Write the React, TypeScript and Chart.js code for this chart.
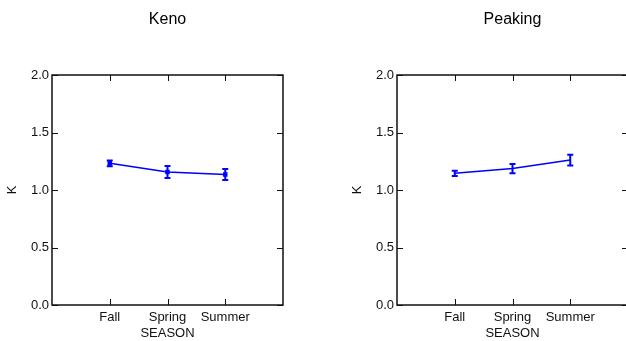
import React, { useEffect, useRef } from "react";
import { Chart, registerables } from "chart.js";

Chart.register(...registerables);

const seasons = ["Fall", "Spring", "Summer"];
const seasonPos = [1, 2, 3];
const kenoMean = [1.232, 1.157, 1.135];
const kenoErr = [0.025, 0.052, 0.048];
const peakingMean = [1.145, 1.186, 1.26];
const peakingErr = [0.023, 0.04, 0.046];
const yTicks = [0, 0.5, 1.0, 1.5, 2.0];

const FONT = "'Liberation Sans', Arial, Helvetica, sans-serif";
const BLUE = "#0000ff";

function makeConfig(title: string, mean: number[], err: number[], markers: boolean, padLeft: number, padRight: number) {
  const framePlugin = {
    id: "frame" + title,
    afterDatasetsDraw(chart: any) {
      const { ctx, scales } = chart;
      const xs = scales.x;
      const ys = scales.y;
      ctx.save();
      ctx.strokeStyle = BLUE;
      ctx.lineWidth = 2;
      mean.forEach((m, i) => {
        const px = xs.getPixelForValue(seasonPos[i]);
        const top = ys.getPixelForValue(m + err[i]);
        const bot = ys.getPixelForValue(m - err[i]);
        ctx.beginPath();
        ctx.moveTo(px, top);
        ctx.lineTo(px, bot);
        ctx.moveTo(px - 3, top);
        ctx.lineTo(px + 3, top);
        ctx.moveTo(px - 3, bot);
        ctx.lineTo(px + 3, bot);
        ctx.stroke();
      });
      ctx.restore();
    },
    afterDraw(chart: any) {
      const { ctx, chartArea: a, scales } = chart;
      const xs = scales.x;
      const ys = scales.y;
      ctx.save();
      ctx.strokeStyle = "#111";
      ctx.lineWidth = 1.5;
      ctx.strokeRect(a.left, a.top, a.right - a.left, a.bottom - a.top);
      ctx.beginPath();
      const tl = 6;
      yTicks.forEach((v) => {
        const py = Math.round(ys.getPixelForValue(v)) + 0.5;
        ctx.moveTo(a.left, py);
        ctx.lineTo(a.left + tl, py);
        ctx.moveTo(a.right, py);
        ctx.lineTo(a.right - tl, py);
      });
      seasonPos.forEach((v) => {
        const px = Math.round(xs.getPixelForValue(v)) + 0.5;
        ctx.moveTo(px, a.bottom);
        ctx.lineTo(px, a.bottom - tl);
        ctx.moveTo(px, a.top);
        ctx.lineTo(px, a.top + tl);
      });
      ctx.lineWidth = 1;
      ctx.stroke();
      ctx.fillStyle = "#000";
      ctx.font = "16px " + FONT;
      ctx.textAlign = "center";
      ctx.textBaseline = "middle";
      ctx.fillText(title, (a.left + a.right) / 2, 20);
      ctx.restore();
    },
  };

  return {
    type: "line" as const,
    data: {
      datasets: [
        {
          label: title,
          data: mean.map((m, i) => ({ x: seasonPos[i], y: m })),
          borderColor: BLUE,
          backgroundColor: BLUE,
          borderWidth: 1.5,
          pointStyle: "rect" as const,
          pointRadius: markers ? 3.2 : 0,
          pointBorderWidth: 0,
          tension: 0,
        },
      ],
    },
    options: {
      responsive: false,
      animation: false as const,
      events: [],
      layout: { padding: { top: 75, left: padLeft, right: padRight, bottom: 0 } },
      plugins: { legend: { display: false }, tooltip: { enabled: false }, title: { display: false } },
      scales: {
        x: {
          type: "linear" as const,
          min: 0,
          max: 4,
          afterBuildTicks: (s: any) => {
            s.ticks = seasonPos.map((v) => ({ value: v }));
          },
          afterFit: (s: any) => {
            s.height = 36;
          },
          grid: { display: false, drawTicks: false },
          border: { display: false },
          ticks: {
            autoSkip: false,
            maxRotation: 0,
            padding: 5,
            color: "#111",
            font: { family: FONT, size: 13 },
            callback: (v: any) => seasons[seasonPos.indexOf(Number(v))] ?? "",
          },
          title: {
            display: true,
            text: "SEASON",
            color: "#111",
            font: { family: FONT, size: 13 },
            padding: { top: 0, bottom: 0 },
          },
        },
        y: {
          min: 0,
          max: 2,
          afterBuildTicks: (s: any) => {
            s.ticks = yTicks.map((v) => ({ value: v }));
          },
          afterFit: (s: any) => {
            s.width = 52;
          },
          grid: { display: false, drawTicks: false },
          border: { display: false },
          ticks: {
            padding: 3,
            color: "#111",
            font: { family: FONT, size: 13 },
            callback: (v: any) => Number(v).toFixed(1),
          },
          title: {
            display: true,
            text: "K",
            color: "#111",
            font: { family: FONT, size: 13 },
            padding: { top: 5, bottom: 0 },
          },
        },
      },
    },
    plugins: [framePlugin],
  };
}

function Panel(props: { title: string; mean: number[]; err: number[]; markers: boolean; padLeft: number; padRight: number }) {
  const ref = useRef<HTMLCanvasElement>(null);
  useEffect(() => {
    if (!ref.current) return;
    const chart = new Chart(ref.current, makeConfig(props.title, props.mean, props.err, props.markers, props.padLeft, props.padRight) as any);
    return () => chart.destroy();
  }, []);
  return (
    <canvas
      ref={ref}
      width={640}
      height={341}
      style={{ position: "absolute", left: 0, top: 0, width: 640, height: 341 }}
    />
  );
}

export default function App() {
  return (
    <div
      style={{
        position: "fixed",
        left: 0,
        top: 0,
        width: 626,
        height: 341,
        overflow: "hidden",
        background: "#fff",
      }}
    >
      <Panel title="Keno" mean={kenoMean} err={kenoErr} markers={true} padLeft={0} padRight={640 - 283} />
      <Panel title="Peaking" mean={peakingMean} err={peakingErr} markers={false} padLeft={345} padRight={640 - 628} />
    </div>
  );
}
